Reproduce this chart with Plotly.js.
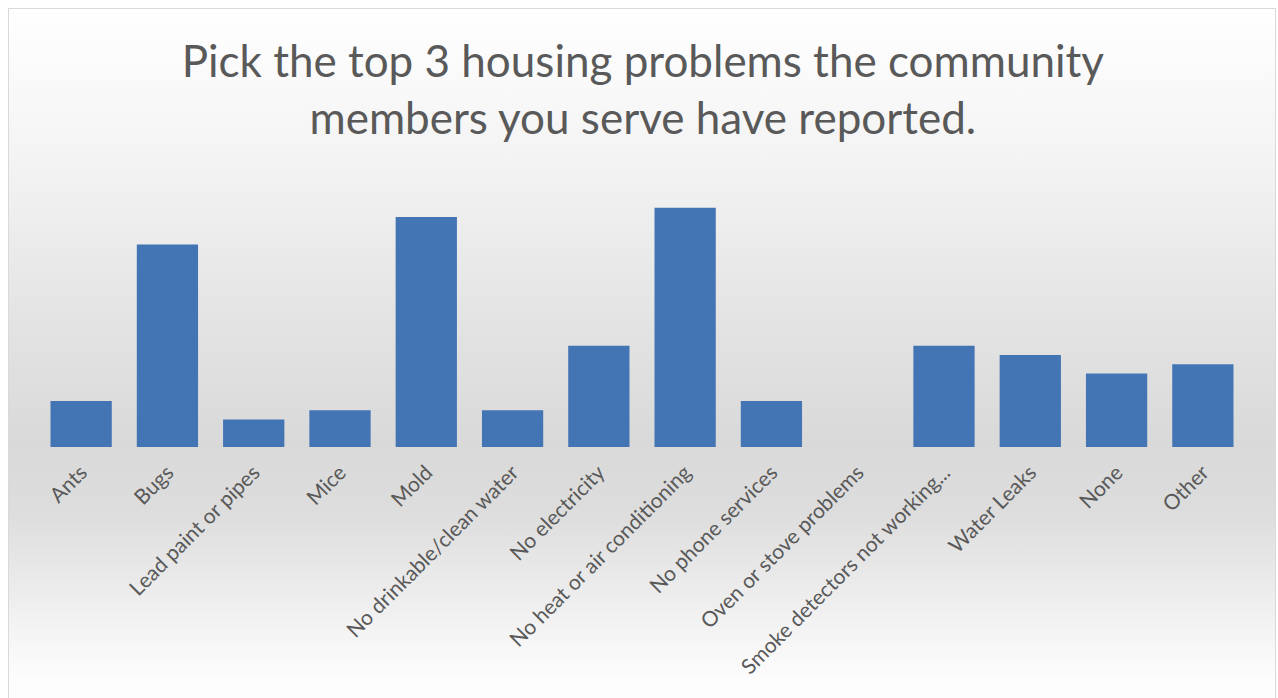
<!DOCTYPE html>
<html>
<head>
<meta charset="utf-8">
<script src="https://cdn.plot.ly/plotly-3.0.1.min.js"></script>
<style>
  html, body { margin: 0; padding: 0; background: #ffffff; }
  #frame {
    position: absolute; left: 8px; top: 8px; width: 1266px; height: 700px;
    border: 1px solid #d9d9d9;
    background: linear-gradient(to bottom, #ffffff 0%, #f3f3f3 22%, #e3e3e3 45%, #d9d9d9 62%, #dddddd 72%, #f0f0f0 86%, #fdfdfd 96%);
  }
  #chart { position: absolute; left: 0; top: 0; width: 1278px; height: 698px; }
</style>
</head>
<body>
<div id="frame"></div>
<div id="chart"></div>
<script>
const categories = [
  "Ants", "Bugs", "Lead paint or pipes", "Mice", "Mold",
  "No drinkable/clean water", "No electricity", "No heat or air conditioning",
  "No phone services", "Oven or stove problems", "Smoke detectors not working...",
  "Water Leaks", "None", "Other"
];
const counts = [5, 22, 3, 4, 25, 4, 11, 26, 5, 0, 11, 10, 8, 9];
const titleText = "Pick the top 3 housing problems the community<br>members you serve have reported.";

const trace = {
  type: "bar",
  x: categories,
  y: counts,
  marker: { color: "#4374b3" },
  hoverinfo: "x+y"
};

const layout = {
  width: 1278, height: 698,
  paper_bgcolor: "rgba(0,0,0,0)",
  plot_bgcolor: "rgba(0,0,0,0)",
  margin: { l: 38, r: 32, t: 194, b: 251 },
  bargap: 0.29,
  showlegend: false,
  title: {
    text: titleText,
    x: 0.503, xanchor: "center",
    y: 0.89, yanchor: "top",
    font: { family: "Lato, 'Open Sans', sans-serif", size: 44, color: "#595959" }
  },
  xaxis: {
    type: "category",
    tickangle: -45,
    showline: false, showgrid: false, zeroline: false,
    ticks: "outside", ticklen: 4, tickcolor: "rgba(0,0,0,0)",
    tickfont: { family: "Lato, 'Open Sans', sans-serif", size: 21, color: "#595959" },
    automargin: false
  },
  yaxis: {
    range: [0, 27.5],
    visible: false,
    showgrid: false, zeroline: false
  }
};

Plotly.newPlot("chart", [trace], layout, { displayModeBar: false, staticPlot: true });
</script>
</body>
</html>
